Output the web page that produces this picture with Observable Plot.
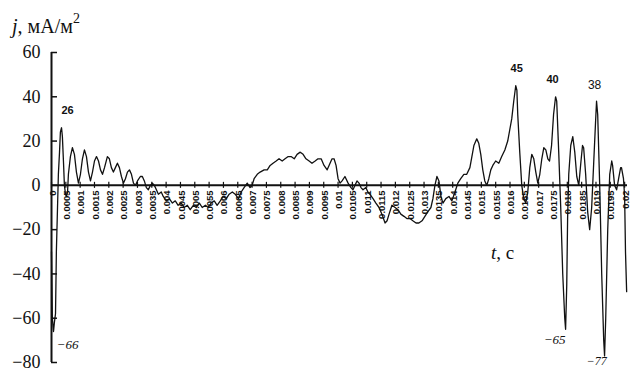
<!DOCTYPE html>
<html><head><meta charset="utf-8">
<script src="https://cdn.jsdelivr.net/npm/d3@7"></script>
<script src="https://cdn.jsdelivr.net/npm/@observablehq/plot@0.6"></script>
<style>html,body{margin:0;padding:0;background:#fff;} svg{display:block}</style>
</head><body><div id="chart"></div>
<script>
// time, s
const time = [
0,0.00003,0.00007,0.00010,0.00014,0.00017,0.00021,0.00024,0.00028,0.00031,0.00035,0.00038,0.00042,0.00045,0.00049,0.00052,0.00056,0.00059,0.00066,0.00073,
0.00080,0.00087,0.00094,0.00101,0.00108,0.00115,0.00122,0.00129,0.00136,0.00143,0.00150,0.00157,0.00164,0.00171,0.00178,0.00185,0.00195,0.00202,0.00209,0.00216,
0.00223,0.00230,0.00237,0.00244,0.00251,0.00258,0.00265,0.00272,0.00279,0.00286,0.00293,0.00300,0.00310,0.00317,0.00324,0.00331,0.00338,0.00345,0.00352,0.00359,
0.00366,0.00373,0.00383,0.00390,0.00401,0.00411,0.00422,0.00432,0.00442,0.00453,0.00463,0.00474,0.00484,0.00495,0.00505,0.00516,0.00526,0.00537,0.00547,0.00557,
0.00568,0.00578,0.00589,0.00599,0.00610,0.00620,0.00631,0.00641,0.00652,0.00662,0.00672,0.00683,0.00693,0.00700,0.00707,0.00718,0.00728,0.00742,0.00753,0.00763,
0.00773,0.00784,0.00794,0.00805,0.00815,0.00826,0.00836,0.00847,0.00857,0.00868,0.00878,0.00888,0.00899,0.00909,0.00920,0.00930,0.00941,0.00951,0.00962,0.00972,
0.00979,0.00986,0.00993,0.01000,0.01007,0.01014,0.01024,0.01035,0.01045,0.01052,0.01059,0.01066,0.01073,0.01080,0.01087,0.01097,0.01104,0.01111,0.01122,0.01132,
0.01143,0.01153,0.01164,0.01171,0.01178,0.01188,0.01199,0.01209,0.01219,0.01230,0.01240,0.01251,0.01261,0.01272,0.01282,0.01293,0.01303,0.01313,0.01324,0.01331,
0.01338,0.01345,0.01352,0.01359,0.01366,0.01376,0.01387,0.01397,0.01408,0.01418,0.01428,0.01439,0.01449,0.01460,0.01467,0.01474,0.01484,0.01491,0.01498,0.01505,
0.01512,0.01519,0.01526,0.01533,0.01540,0.01550,0.01561,0.01571,0.01582,0.01592,0.01599,0.01606,0.01613,0.01620,0.01624,0.01627,0.01634,0.01641,0.01648,0.01655,
0.01662,0.01669,0.01676,0.01683,0.01690,0.01697,0.01704,0.01711,0.01718,0.01725,0.01732,0.01738,0.01745,0.01752,0.01759,0.01763,0.01770,0.01777,0.01784,0.01791,
0.01794,0.01798,0.01801,0.01805,0.01812,0.01819,0.01826,0.01833,0.01840,0.01847,0.01853,0.01857,0.01864,0.01871,0.01878,0.01885,0.01892,0.01899,0.01902,0.01906,
0.01913,0.01920,0.01927,0.01930,0.01934,0.01941,0.01948,0.01955,0.01958,0.01965,0.01972,0.01979,0.01986,0.01989,0.01996,0.02000,0.02003,0.02007
];
// current density j, mA/m^2
const current = [
-30,-60,-66,-62,-58,-30,-10,5,15,24,26,22,10,0,-4,-5,-3,5,13,17,
14,6,1,5,12,16,13,6,2,6,11,13,11,7,5,8,13,12,8,6,
8,10,8,4,1,3,6,7,5,1,0,2,4,4,2,-1,-2,0,1,0,
-2,-4,-3,-5,-7,-6,-8,-7,-9,-8,-10,-9,-11,-9,-10,-8,-10,-9,-10,-8,
-7,-9,-7,-5,-6,-4,-3,-4,-6,-3,-1,1,-1,0,3,5,6,7,7,9,
10,11,12,11,12,13,13,12,14,15,14,12,11,10,11,12,12,9,7,10,
12,12,9,3,1,2,4,1,-1,-2,0,2,1,-1,-2,-1,-3,-4,-6,-8,
-10,-13,-17,-16,-13,-9,-10,-11,-13,-14,-15,-15,-16,-17,-17,-16,-14,-12,-10,-6,
0,4,2,-5,-8,-6,-5,-7,-3,1,3,5,5,8,13,18,21,19,14,7,
2,0,3,7,9,11,10,13,16,20,25,30,38,45,43,32,15,0,-6,-8,
-3,8,14,12,6,1,5,12,17,16,12,11,18,32,40,38,15,-10,-40,-60,
-65,-45,-15,5,18,22,15,4,0,10,18,17,5,-12,-20,-10,10,30,38,32,
0,-40,-70,-77,-60,-20,5,11,9,0,-2,3,8,8,3,-5,-30,-48
];
const yTicks = [-80, -60, -40, -20, 0, 20, 40, 60];
const xTicks = [0,0.0005,0.001,0.0015,0.002,0.0025,0.003,0.0035,0.004,0.0045,0.005,0.0055,0.006,0.0065,0.007,0.0075,0.008,0.0085,0.009,0.0095,0.01,
0.0105,0.011,0.0115,0.012,0.0125,0.013,0.0135,0.014,0.0145,0.015,0.0155,0.016,0.0165,0.017,0.0175,0.018,0.0185,0.019,0.0195,0.02];
// annotated extrema
const annTime  = [0.00035, 0.00007, 0.01620, 0.01759, 0.01794, 0.01902, 0.01930];
const annValue = [26, -66, 45, 40, -65, 38, -77];
const annText  = ["26", "\u221266", "45", "40", "\u221265", "38", "\u221277"];

const data = time.map((t, i) => ({t, j: current[i]}));
const ann = annTime.map((t, i) => ({t, j: annValue[i], label: annText[i]}));
const annStyle = [
  {dx: 6, dy: -17, fontSize: 11, fontWeight: "bold", fontFamily: "Liberation Sans Narrow, Liberation Sans"},
  {dx: 14, dy: 13, fontSize: 13, fontStyle: "italic", fontFamily: "Liberation Serif"},
  {dx: 1, dy: -17, fontSize: 11, fontWeight: "bold", fontFamily: "Liberation Sans Narrow, Liberation Sans"},
  {dx: -3, dy: -17, fontSize: 11, fontWeight: "bold", fontFamily: "Liberation Sans Narrow, Liberation Sans"},
  {dx: -11, dy: 11, fontSize: 13, fontStyle: "italic", fontFamily: "Liberation Serif"},
  {dx: -2, dy: -16, fontSize: 12, fontFamily: "Liberation Sans Narrow, Liberation Sans"},
  {dx: -8, dy: 5, fontSize: 12, fontStyle: "italic", fontFamily: "Liberation Serif"}
];
const fmtY = d => d < 0 ? "\u2212" + (-d) : String(d);

const chart = Plot.plot({
  width: 630, height: 372,
  marginLeft: 51, marginRight: 3, marginTop: 52, marginBottom: 10,
  x: {domain: [0, 0.0201], axis: null},
  y: {domain: [-80, 60], axis: null},
  style: {background: "#fff", color: "#111"},
  marks: [
    Plot.ruleX([0], {stroke: "#111", strokeWidth: 2}),
    Plot.ruleY(yTicks, {y: d => d, x1: () => 0, x2: () => 0, insetRight: -6, stroke: "#111", strokeWidth: 1.5}),
    Plot.text(yTicks, {x: () => 0, y: d => d, text: fmtY, textAnchor: "end", dx: -11,
      fontSize: 18, fontFamily: "Liberation Serif", fill: "#111"}),
    Plot.ruleY([0], {stroke: "#111", strokeWidth: 2}),
    Plot.ruleX(xTicks, {x: d => d, y1: () => 0, y2: () => 0, insetTop: -3, insetBottom: -3, stroke: "#111", strokeWidth: 1.2}),
    Plot.text(xTicks, {x: d => d, y: () => 0, text: d => String(d), rotate: -90, textAnchor: "end",
      lineAnchor: "middle", dy: 5, dx: 1, fontSize: 9.5, fontWeight: "bold",
      fontFamily: "Liberation Sans Narrow, Liberation Sans", fill: "#111"}),
    Plot.line(data, {x: "t", y: "j", stroke: "#111", strokeWidth: 1.3}),
    ...ann.map((a, i) => Plot.text([a], {x: "t", y: "j", text: "label", fill: "#111", ...annStyle[i]}))
  ]
});

const svg = d3.select(chart);
const yt = svg.append("text").attr("x", 12).attr("y", 33).attr("text-anchor", "start")
  .attr("font-family", "Liberation Serif").attr("font-size", 20).attr("fill", "#111");
yt.append("tspan").attr("font-style", "italic").text("j");
yt.append("tspan").text(", мА/м");
yt.append("tspan").attr("font-size", 14).attr("dy", -10).text("2");
const xt = svg.append("text").attr("x", 491).attr("y", 259).attr("text-anchor", "start")
  .attr("font-family", "Liberation Serif").attr("font-size", 19).attr("fill", "#111");
xt.append("tspan").attr("font-style", "italic").text("t");
xt.append("tspan").text(", с");

document.getElementById("chart").appendChild(chart);
</script>
</body></html>
